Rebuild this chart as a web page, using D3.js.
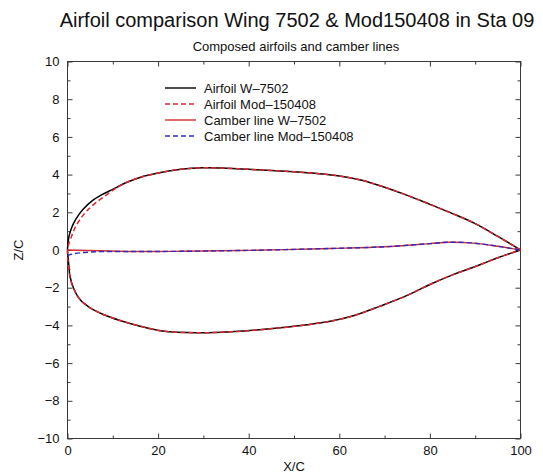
<!DOCTYPE html>
<html>
<head>
<meta charset="utf-8">
<script src="https://cdn.jsdelivr.net/npm/d3@7"></script>
<style>
  html, body { margin: 0; padding: 0; background: #fff; }
  svg { display: block; font-family: "Liberation Sans", Arial, Helvetica, sans-serif; }
</style>
</head>
<body>
<svg id="chart" width="543" height="474"></svg>
<script>
// Airfoil W-7502: upper and lower surfaces (X/C %, Z/C %)
const w7502Upper = [
  [0, 0], [0.2, 0.55], [0.55, 0.93], [1.3, 1.4], [2.5, 1.88], [3.5, 2.18],
  [5.5, 2.62], [7.5, 2.92], [10, 3.22], [13, 3.58], [16, 3.85], [20, 4.08],
  [25, 4.28], [30, 4.36], [35, 4.34], [40, 4.28], [45, 4.22], [50, 4.15],
  [55, 4.06], [60, 3.93], [65, 3.7], [70, 3.33], [75, 2.9], [80, 2.42],
  [85, 1.93], [90, 1.4], [95, 0.72], [100, 0]
];
const w7502Lower = [
  [0, 0], [0.18, -0.5], [0.55, -1.39], [1.3, -2.0], [2.76, -2.63], [5, -3.07],
  [7.9, -3.42], [11.6, -3.74], [16, -4.04], [21, -4.3], [28.6, -4.39],
  [36, -4.34], [47, -4.13], [58, -3.78], [63.5, -3.46], [69, -2.98],
  [74.6, -2.45], [80, -1.83], [85, -1.32], [91.2, -0.77], [95, -0.41], [100, 0]
];

// Airfoil Mod-150408: upper and lower surfaces
const mod150408Upper = [
  [0, -0.3], [0.15, 0.2], [0.9, 0.73], [1.66, 1.18], [2.76, 1.62], [4.2, 2.06],
  [6.45, 2.54], [8.7, 2.94], [10.9, 3.3], [13, 3.58], [16, 3.85], [20, 4.08],
  [25, 4.28], [30, 4.36], [35, 4.34], [40, 4.28], [45, 4.22], [50, 4.15],
  [55, 4.06], [60, 3.93], [65, 3.7], [70, 3.33], [75, 2.9], [80, 2.42],
  [85, 1.93], [90, 1.4], [95, 0.72], [100, 0]
];
const mod150408Lower = [
  [0, -0.3], [0.18, -0.75], [0.55, -1.45], [1.3, -2.02], [2.76, -2.63], [5, -3.07],
  [7.9, -3.42], [11.6, -3.74], [16, -4.04], [21, -4.3], [28.6, -4.39],
  [36, -4.34], [47, -4.13], [58, -3.78], [63.5, -3.46], [69, -2.98],
  [74.6, -2.45], [80, -1.83], [85, -1.32], [91.2, -0.77], [95, -0.41], [100, 0]
];

// Camber lines
const camberW7502 = [
  [0, 0.0], [7, -0.04], [16, -0.08], [25, -0.07], [40, -0.02], [58, 0.08],
  [70, 0.17], [80, 0.34], [84, 0.41], [89, 0.38], [95, 0.2], [100, 0]
];
const camberMod150408 = [
  [0, -0.3], [1, -0.22], [2.76, -0.15], [5, -0.11], [8, -0.08], [12, -0.08],
  [16, -0.08], [25, -0.07], [40, -0.02], [58, 0.08],
  [70, 0.17], [80, 0.34], [84, 0.41], [89, 0.38], [95, 0.2], [100, 0]
];

// Axis ticks
const xMajorTicks = [0, 20, 40, 60, 80, 100];
const xMinorTicks = [10, 30, 50, 70, 90];
const yMajorTicks = [-10, -8, -6, -4, -2, 0, 2, 4, 6, 8, 10];
const yMinorTicks = [-9, -7, -5, -3, -1, 1, 3, 5, 7, 9];

// Legend entries
const legendLabels = ["Airfoil W\u20137502", "Airfoil Mod\u2013150408", "Camber line W\u20137502", "Camber line Mod\u2013150408"];
const legendColors = ["#000000", "#e0262e", "#d42a2a", "#2a2ac8"];
const legendDashes = [null, "5,3", null, "5,3"];

const svg = d3.select("#chart");
const plot = { left: 67.5, right: 520.5, top: 61.5, bottom: 438.5 };

const x = d3.scaleLinear().domain([0, 100]).range([plot.left, plot.right]);
const y = d3.scaleLinear().domain([-10, 10]).range([plot.bottom, plot.top]);

const fmt = d => (d < 0 ? "\u2212" + Math.abs(d) : String(d));
const axisColor = "#3a3a3a";

function styleAxis(g) {
  g.select(".domain").remove();
  g.selectAll(".tick line").attr("stroke", axisColor).attr("stroke-width", 1);
  g.selectAll(".tick text").attr("fill", "#111").style("font-size", "13px");
}

// Bottom axis (labels) + minor
svg.append("g").attr("transform", `translate(0,${plot.bottom})`)
  .call(d3.axisBottom(x).tickValues(xMajorTicks).tickSize(-5).tickPadding(7).tickFormat(fmt))
  .call(styleAxis);
svg.append("g").attr("transform", `translate(0,${plot.bottom})`)
  .call(d3.axisBottom(x).tickValues(xMinorTicks).tickSize(-3).tickFormat(""))
  .call(styleAxis);
// Top axis (ticks only)
svg.append("g").attr("transform", `translate(0,${plot.top})`)
  .call(d3.axisTop(x).tickValues(xMajorTicks).tickSize(-5).tickFormat(""))
  .call(styleAxis);
svg.append("g").attr("transform", `translate(0,${plot.top})`)
  .call(d3.axisTop(x).tickValues(xMinorTicks).tickSize(-3).tickFormat(""))
  .call(styleAxis);
// Left axis (labels) + minor
svg.append("g").attr("transform", `translate(${plot.left},0)`)
  .call(d3.axisLeft(y).tickValues(yMajorTicks).tickSize(-5).tickPadding(8).tickFormat(fmt))
  .call(styleAxis);
svg.append("g").attr("transform", `translate(${plot.left},0)`)
  .call(d3.axisLeft(y).tickValues(yMinorTicks).tickSize(-3).tickFormat(""))
  .call(styleAxis);
// Right axis (ticks only)
svg.append("g").attr("transform", `translate(${plot.right},0)`)
  .call(d3.axisRight(y).tickValues(yMajorTicks).tickSize(-5).tickFormat(""))
  .call(styleAxis);
svg.append("g").attr("transform", `translate(${plot.right},0)`)
  .call(d3.axisRight(y).tickValues(yMinorTicks).tickSize(-3).tickFormat(""))
  .call(styleAxis);

// Frame
svg.append("rect")
  .attr("x", plot.left).attr("y", plot.top)
  .attr("width", plot.right - plot.left).attr("height", plot.bottom - plot.top)
  .attr("fill", "none").attr("stroke", axisColor).attr("stroke-width", 1);

// Curves
const contour = d3.line().x(d => x(d[0])).y(d => y(d[1])).curve(d3.curveCatmullRom.alpha(0.5));
const outline = (upper, lower) => upper.slice().reverse().concat(lower.slice(1));

const curves = svg.append("g");
curves.append("path")
  .attr("d", contour(outline(w7502Upper, w7502Lower)))
  .attr("fill", "none").attr("stroke", legendColors[0]).attr("stroke-width", 1.5);
curves.append("path")
  .attr("d", contour(outline(mod150408Upper, mod150408Lower)))
  .attr("fill", "none").attr("stroke", legendColors[1]).attr("stroke-width", 1.5)
  .attr("stroke-dasharray", legendDashes[1]);
curves.append("path")
  .attr("d", contour(camberW7502))
  .attr("fill", "none").attr("stroke", legendColors[2]).attr("stroke-width", 1.4);
curves.append("path")
  .attr("d", contour(camberMod150408))
  .attr("fill", "none").attr("stroke", legendColors[3]).attr("stroke-width", 1.4)
  .attr("stroke-dasharray", legendDashes[3]);

// Legend
const legend = svg.append("g");
legendLabels.forEach((label, i) => {
  const ly = 88 + i * 16;
  legend.append("line")
    .attr("x1", 165).attr("x2", 196).attr("y1", ly).attr("y2", ly)
    .attr("stroke", legendColors[i]).attr("stroke-width", 1.4)
    .attr("stroke-dasharray", legendDashes[i]);
  legend.append("text")
    .attr("x", 204).attr("y", ly).attr("dy", "0.35em")
    .style("font-size", "13px").attr("fill", "#111")
    .text(label);
});

// Titles and axis labels
svg.append("text")
  .attr("x", 297).attr("y", 27).attr("text-anchor", "middle")
  .style("font-size", "20px").attr("fill", "#111")
  .text("Airfoil comparison Wing 7502 & Mod150408 in Sta 09");
svg.append("text")
  .attr("x", 296).attr("y", 51).attr("text-anchor", "middle")
  .style("font-size", "13px").attr("fill", "#111")
  .text("Composed airfoils and camber lines");
svg.append("text")
  .attr("x", (plot.left + plot.right) / 2).attr("y", 471).attr("text-anchor", "middle")
  .style("font-size", "13px").attr("fill", "#111")
  .text("X/C");
svg.append("text")
  .attr("transform", `translate(23,${(plot.top + plot.bottom) / 2}) rotate(-90)`)
  .attr("text-anchor", "middle")
  .style("font-size", "13px").attr("fill", "#111")
  .text("Z/C");
</script>
</body>
</html>
